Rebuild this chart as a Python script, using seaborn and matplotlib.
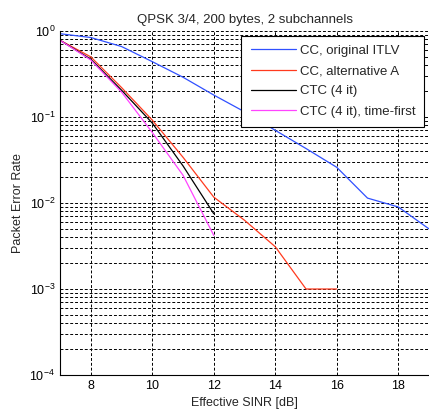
import matplotlib
matplotlib.use("Agg")
import matplotlib.pyplot as plt
import pandas as pd
import seaborn as sns
from matplotlib.ticker import LogLocator, NullFormatter, FixedLocator

# Effective SINR [dB] and packet error rates
sinr_cc_orig = [7, 8, 9, 10, 11, 12, 13, 14, 15, 16, 17, 18, 19]
per_cc_orig = [0.93, 0.84, 0.66, 0.44, 0.29, 0.18, 0.115, 0.07, 0.043, 0.026, 0.0114, 0.009, 0.005]

sinr_cc_alt = [7, 8, 9, 10, 11, 12, 13, 14, 15, 16]
per_cc_alt = [0.78, 0.50, 0.22, 0.092, 0.034, 0.0117, 0.0063, 0.0031, 0.001, 0.001]

sinr_ctc = [7, 8, 9, 10, 11, 12]
per_ctc = [0.78, 0.47, 0.205, 0.085, 0.027, 0.0075]

sinr_ctc_tf = [7, 8, 9, 10, 11, 12]
per_ctc_tf = [0.78, 0.46, 0.195, 0.066, 0.021, 0.0042]

SERIES = ["CC, original ITLV", "CC, alternative A", "CTC (4 it)", "CTC (4 it), time-first"]
COLORS = ["#3050ff", "#ff3a1e", "#000000", "#ff44ff"]


def build_frame():
    parts = []
    for name, xs, ys in zip(
        SERIES,
        [sinr_cc_orig, sinr_cc_alt, sinr_ctc, sinr_ctc_tf],
        [per_cc_orig, per_cc_alt, per_ctc, per_ctc_tf],
    ):
        parts.append(pd.DataFrame({"sinr": xs, "per": ys, "scheme": name}))
    return pd.concat(parts, ignore_index=True)


df = build_frame()

sns.set_style("white")
plt.rcParams["font.family"] = ["Liberation Sans", "DejaVu Sans"]
plt.rcParams["font.size"] = 9

fig = plt.figure(figsize=(4.29, 4.19), dpi=100)
ax = fig.add_axes([0.14, 0.105, 0.86, 0.821])

sns.lineplot(
    data=df,
    x="sinr",
    y="per",
    hue="scheme",
    hue_order=SERIES,
    palette=COLORS,
    linewidth=0.9,
    ax=ax,
)

ax.set_yscale("log")
ax.set_xlim(7, 19)
ax.set_ylim(1e-4, 1)
ax.xaxis.set_major_locator(FixedLocator([8, 10, 12, 14, 16, 18]))
ax.yaxis.set_major_locator(LogLocator(base=10, numticks=10))
ax.yaxis.set_minor_locator(LogLocator(base=10, subs=range(2, 10), numticks=10))
ax.yaxis.set_minor_formatter(NullFormatter())

ax.grid(True, which="major", axis="both", color="black", linestyle=(0, (3, 2)), linewidth=0.7)
ax.grid(True, which="minor", axis="y", color="black", linestyle=(0, (3, 2)), linewidth=0.7)
ax.spines["top"].set_visible(False)
ax.spines["right"].set_visible(False)
for side in ["left", "bottom"]:
    ax.spines[side].set_color("black")
    ax.spines[side].set_linewidth(0.8)
ax.tick_params(axis="both", which="both", direction="in", labelsize=9, colors="black")
ax.tick_params(which="minor", length=2)

ax.set_xlabel("Effective SINR [dB]", fontsize=9)
ax.set_ylabel("Packet Error Rate", fontsize=9)
ax.set_title("QPSK 3/4, 200 bytes, 2 subchannels", fontsize=9.5)

leg = ax.legend(
    loc="upper right",
    fontsize=9.5,
    frameon=True,
    fancybox=False,
    borderaxespad=0.35,
    borderpad=0.7,
    handlelength=3.4,
    handletextpad=0.3,
    labelspacing=0.6,
)
leg.get_frame().set_edgecolor("black")
leg.get_frame().set_linewidth(0.8)
leg.get_frame().set_alpha(1)

fig.savefig("out.png", dpi=100)
plt.close(fig)
